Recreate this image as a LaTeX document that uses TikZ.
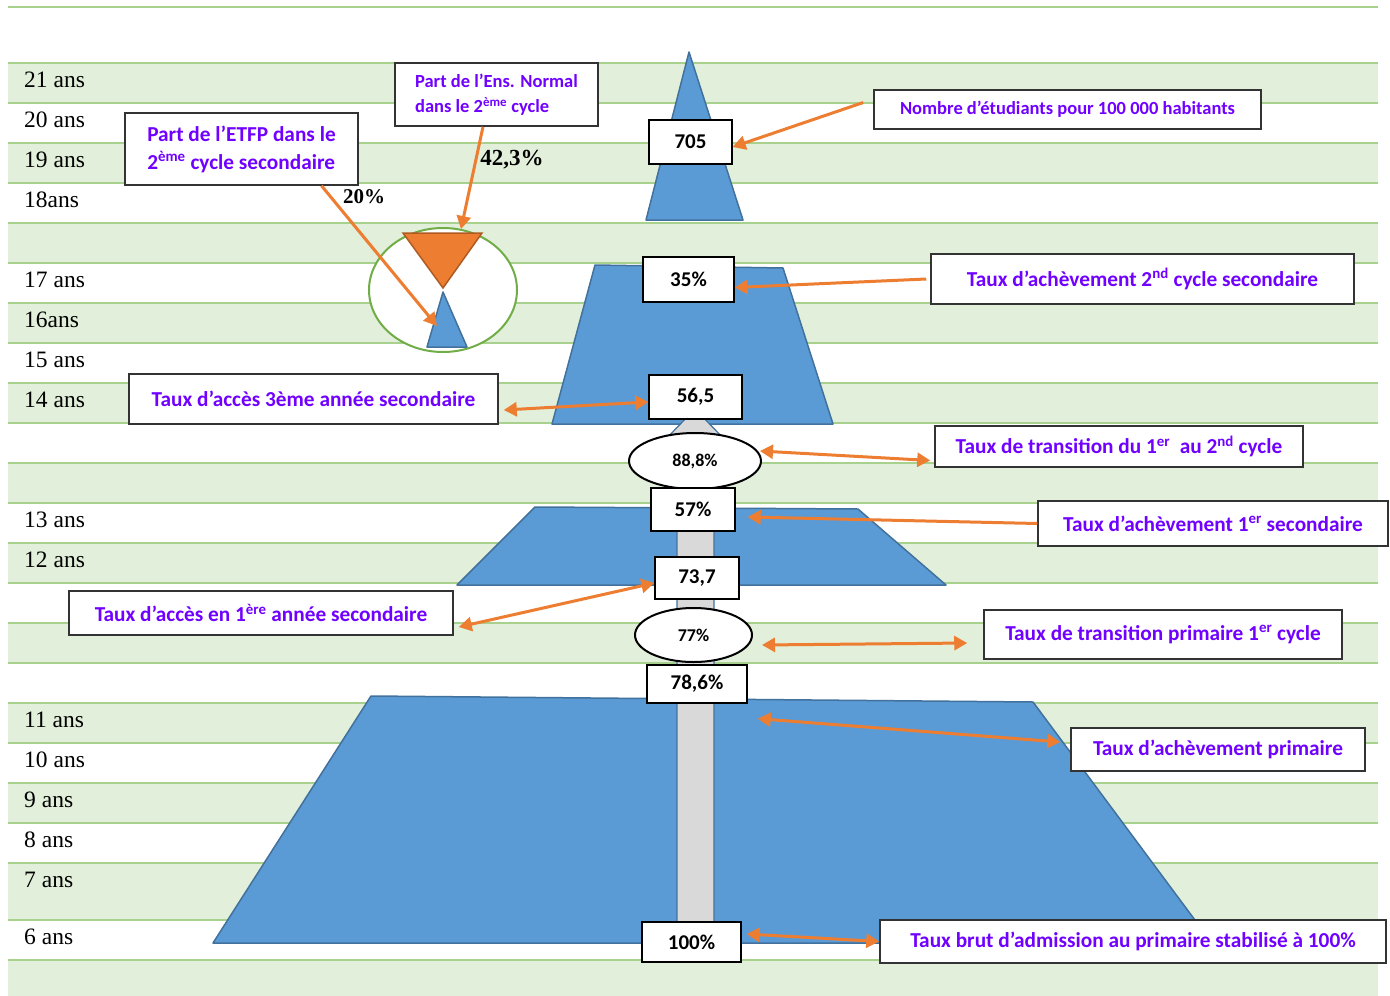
\documentclass[tikz,border=0pt]{standalone}
\usepackage{fontspec}
\setmainfont{Liberation Serif}
\newfontfamily\calfont{Carlito}
\usetikzlibrary{arrows.meta,shapes.geometric}

\definecolor{bandgreen}{HTML}{E2EFDA}
\definecolor{linegreen}{HTML}{A9D18E}
\definecolor{pyrblue}{HTML}{5B9BD5}
\definecolor{pyredge}{HTML}{41719C}
\definecolor{arrorange}{HTML}{ED7D31}
\definecolor{orangeedge}{HTML}{AE5A21}
\definecolor{txtviolet}{HTML}{7000FF}
\definecolor{bargray}{HTML}{D9D9D9}
\definecolor{circgreen}{HTML}{70AD47}

\tikzset{
  agelab/.style={anchor=west,inner sep=0pt,font=\fontsize{23.5}{26}\selectfont},
  callout/.style={draw=black!80,line width=1.5pt,fill=white,inner sep=0pt,text=txtviolet,
    font=\calfont\bfseries\fontsize{21.3}{28}\selectfont},
  smallcallout/.style={callout,font=\calfont\bfseries\fontsize{18.5}{25}\selectfont},
  valbox/.style={draw=black,line width=1.3pt,fill=white,inner sep=0pt,
    font=\calfont\bfseries\fontsize{21}{22}\selectfont},
  valoval/.style={ellipse,draw=black,line width=2pt,fill=white,inner sep=0pt,
    font=\calfont\bfseries\fontsize{18}{18}\selectfont},
  pyr/.style={fill=pyrblue,draw=pyredge,line width=1.5pt,line join=round},
  arr/.style={draw=arrorange,line width=3pt,-{Triangle[length=13pt,width=14pt]}},
  dblarr/.style={draw=arrorange,line width=3pt,
    {Triangle[length=13pt,width=14pt]}-{Triangle[length=13pt,width=14pt]}},
}

\begin{document}
\begin{tikzpicture}[x=1pt,y=-1pt]
\useasboundingbox (0,0) rectangle (1390,996);

% bands of ages
\foreach \t/\b in {63/103,143/183,223/263,303/343,383/423,463/503,543/583,623/663,
                   703/743,783/823,863/920,960/996}
  \fill[bandgreen] (8,\t) rectangle (1378,\b);
\foreach \y in {7,63,103,143,183,223,263,303,343,383,423,463,503,543,583,623,663,
                703,743,783,823,863,920,960}
  \draw[linegreen,line width=2.5pt] (8,\y) -- (1378,\y);

\foreach \y/\a in {80/21 ans,120/20 ans,160/19 ans,200/18ans,280/17 ans,320/16ans,
                   360/15 ans,400/14 ans,520/13 ans,560/12 ans,720/11 ans,760/10 ans,
                   800/9 ans,840/8 ans,880/7 ans,937/6 ans}
  \node[agelab] (age\y) at (24,\y) {\a};

% pyramid
\draw[pyr] (689,52) -- (743,220) -- (646,220) -- cycle;
\draw[pyr] (595,265) -- (783,268) -- (833,424) -- (552,424) -- cycle;
\draw[pyr] (535,507) -- (858,509) -- (946,585) -- (457,585) -- cycle;
\draw[pyr] (371,696) -- (1033,702) -- (1212,943) -- (213,943) -- cycle;

\draw[fill=bargray,draw=pyredge,line width=1.2pt] (677,922) -- (677,445) -- (660,445)
  -- (695,409) -- (730,445) -- (714,445) -- (714,922) -- cycle;

% ETFP / Ens. Normal
\draw[circgreen,line width=2pt,fill=white] (443,290) ellipse (74pt and 62pt);
\draw[fill=arrorange,draw=orangeedge,line width=1.5pt] (403,233) -- (482,233) -- (443,288) -- cycle;
\draw[pyr] (443,292) -- (467,347) -- (427,347) -- cycle;
\coordinate (tipO) at (461,229);
\coordinate (tipB) at (437,326);

\node[font=\bfseries\fontsize{23}{26}\selectfont] (p423) at (512,160) {42,3\%};
\node[font=\bfseries\fontsize{21}{24}\selectfont] (p20) at (364,197) {20\%};

% values
\node[valbox,minimum width=83pt,minimum height=44pt] (v705) at (690.5,142) {705};
\node[valbox,minimum width=91pt,minimum height=45pt] (v35) at (688.5,279.5) {35\%};
\node[valbox,minimum width=93pt,minimum height=44pt] (v565) at (695.5,397) {56,5};
\node[valoval,minimum width=132pt,minimum height=56pt] (e88) at (695,461) {88,8\%};
\node[valbox,minimum width=84pt,minimum height=43pt] (v57) at (693,509.5) {57\%};
\node[valbox,minimum width=84pt,minimum height=42pt] (v737) at (697,578) {73,7};
\node[valoval,minimum width=117pt,minimum height=54pt] (e77) at (693.5,635) {77\%};
\node[valbox,minimum width=100pt,minimum height=38pt] (v786) at (697,684) {78,6\%};
\node[valbox,minimum width=99pt,minimum height=40pt] (v100) at (691.5,942) {100\%};

% callouts
\node[callout,minimum width=233pt,minimum height=72pt,align=left] (etfp) at (241.5,149)
  {Part de l’ETFP dans le\\2\textsuperscript{ème} cycle secondaire};
\node[smallcallout,minimum width=203pt,minimum height=63pt,align=left] (ensn) at (496.5,94.5)
  {Part de l’Ens. Normal\\dans le 2\textsuperscript{ème} cycle};
\node[smallcallout,minimum width=387pt,minimum height=39pt] (nbr) at (1067.5,109.5)
  {Nombre d’étudiants pour 100 000 habitants};
\node[callout,minimum width=423pt,minimum height=50pt] (ach2) at (1142.5,279)
  {Taux d’achèvement 2\textsuperscript{nd} cycle secondaire};
\node[callout,minimum width=369pt,minimum height=50pt] (acc3) at (313.5,399)
  {Taux d’accès 3ème année secondaire};
\node[callout,minimum width=368pt,minimum height=41pt] (tr12) at (1119,446.5)
  {Taux de transition du 1\textsuperscript{er}\ \ au 2\textsuperscript{nd} cycle};
\node[callout,minimum width=350pt,minimum height=45pt] (ach1) at (1213,523.5)
  {Taux d’achèvement 1\textsuperscript{er} secondaire};
\node[callout,minimum width=384pt,minimum height=44pt] (acc1) at (261,613)
  {Taux d’accès en 1\textsuperscript{ère} année secondaire};
\node[callout,minimum width=358pt,minimum height=49pt] (trp) at (1163,634.5)
  {Taux de transition primaire 1\textsuperscript{er} cycle};
\node[callout,minimum width=294pt,minimum height=43pt] (achp) at (1218,749.5)
  {Taux d’achèvement primaire};
\node[callout,minimum width=506pt,minimum height=43pt] (tba) at (1133,941.5)
  {Taux brut d’admission au primaire stabilisé à 100\%};

% arrows
\draw[arr] ([xshift=-10pt,yshift=7pt]nbr.west) -- ([yshift=-5pt]v705.east);
\draw[arr] ([xshift=-4pt]ach2.west) -- ([yshift=-8pt]v35.east);
\draw[dblarr] ([xshift=5pt,yshift=-11pt]acc3.east) -- ([yshift=-5pt]v565.west);
\draw[dblarr] ([xshift=-2pt,yshift=10pt]e88.east) -- ([xshift=-4pt,yshift=-14pt]tr12.west);
\draw[arr] (ach1.west) -- ([xshift=12pt,yshift=-7.5pt]v57.east);
\draw[dblarr] ([xshift=5pt,yshift=-14pt]acc1.east) -- ([yshift=-5pt]v737.west);
\draw[dblarr] ([xshift=9pt,yshift=-10pt]e77.east) -- ([xshift=-16pt,yshift=-8.5pt]trp.west);
\draw[dblarr] ([xshift=10pt,yshift=-15pt]v786.south east) -- ([xshift=-10pt,yshift=7.5pt]achp.west);
\draw[dblarr] ([xshift=5pt,yshift=8pt]v100.east) -- (tba.west);
\draw[arr] ([xshift=80pt]etfp.south) -- (tipB);
\draw[arr] ([xshift=-13.5pt]ensn.south) -- (tipO);

\end{tikzpicture}
\end{document}
